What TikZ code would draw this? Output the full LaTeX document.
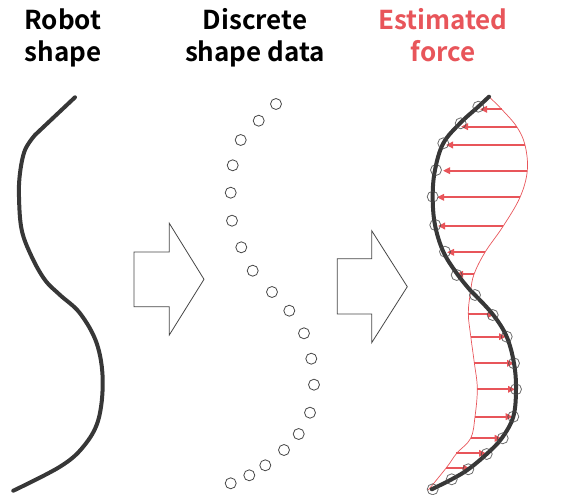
\documentclass[tikz,border=0pt]{standalone}
\usepackage{fontspec}
\setmainfont{Noto Sans CJK JP}[BoldFont={Noto Sans CJK JP Bold}]
\usetikzlibrary{arrows.meta}
\definecolor{dark}{RGB}{55,55,55}
\definecolor{ring}{RGB}{70,70,70}
\definecolor{forcered}{RGB}{232,85,90}
\tikzset{
  title/.style={anchor=base,font=\fontsize{26}{30}\selectfont\bfseries,inner sep=0pt},
  robot/.style={draw=dark,line width=4pt,line cap=round,line join=round},
  dot/.style={circle,draw=ring,line width=0.8pt,minimum size=11pt,inner sep=0pt},
  bigarrow/.style={draw=ring,line width=0.8pt,line join=miter},
  forcearrow/.style={draw=forcered,line width=1.8pt,-{Triangle[length=7pt,width=6.5pt]}},
  envelope/.style={draw=forcered,line width=0.7pt}
}
\begin{document}
\begin{tikzpicture}[x=1pt,y=-1pt]
\useasboundingbox (0,0) rectangle (582,495);
% titles
\node[title] (t1a) at (63,29.5) {Robot};
\node[title] (t1b) at (63,62) {shape};
\node[title] (t2a) at (255,29.5) {Discrete};
\node[title] (t2b) at (255,62) {shape data};
\node[title,text=forcered] (t3a) at (443,29.5) {Estimated};
\node[title,text=forcered] (t3b) at (443,62) {force};
% robot shape
\draw[robot] (75,97.3) -- (35,135) plot[smooth,tension=0.6] coordinates {(35,135) (25,150) (20,173) (19,197) (21.7,230) (31.7,256.7) (45,280) (60,295) (80,313.3) (96.7,343.3) (102.7,380) (98.3,420) (83.3,446.7) (60,466.7) (13.3,490.7)};
% block arrows
\draw[bigarrow] (134,252) -- (169.3,252) -- (169.3,223.3) -- (204,279.3) -- (169.3,335) -- (169.3,306.7) -- (134,306.7) -- cycle;
\draw[bigarrow] (337.3,258.7) -- (371.7,258.7) -- (371.7,230.7) -- (407.3,286.7) -- (371.7,342.7) -- (371.7,314) -- (337.3,314) -- cycle;
% discrete points
\foreach \i/\p in {1/{(276,104)},2/{(258.7,120.7)},3/{(240.7,140)},4/{(232.7,165.3)},5/{(230.7,192.7)},6/{(232,220.7)},7/{(241.3,247.3)},8/{(252.7,270.7)},9/{(272,292)},10/{(289.3,310.7)},11/{(304,333.3)},12/{(311.3,358.7)},13/{(314,384.7)},14/{(310,412.7)},15/{(298.7,434)},16/{(284,450)},17/{(265.3,465.3)},18/{(249.3,475.3)},19/{(230.7,483.3)}}
  \node[dot] (d\i) at \p {};
% estimated force: envelope
\draw[envelope] plot[smooth,tension=0.6] coordinates {(489,96.7) (501.7,109.3) (516.7,126.7) (525,145) (527.3,170.7) (520,197.3) (503.3,226) (485,252.3) (474,274.3) (470.5,292) (468.3,313.3) (470.7,336) (474.3,362.7) (477.3,388.3) (475,416.7) (470.7,438.3) (456.7,453.3) (446.7,467.3) (428.3,490)};
% force arrows
\foreach \a/\b/\y in {501.7/480/109.3, 516.7/461/126.7, 525/446/145, 527.3/443/170.7, 520/437/197.3, 503.3/438/226, 485/447/252.3, 474/456/274.3,
  468.3/495/314.3, 470.7/506/336.7, 474.3/514/363.3, 477.3/515/389.3, 475/512.7/416.7, 470.7/501.7/438.3, 456/486/453.3, 446/470/468.3}
  \draw[forcearrow] (\a,\y) -- (\b,\y);
% robot shape (estimated)
\draw[robot] plot[smooth,tension=0.6] coordinates {(489,96.7) (478.3,106.7) (460,123.3) (443.3,143.3) (435,170) (432.7,196.7) (435,225) (443.3,251.7) (456.7,273.3) (470,290) (475,295) (493.3,315) (506.7,336.7) (514,363.3) (516,389.3) (513.3,416.7) (501.7,438.3) (486.7,454) (468.3,469.3) (451.7,479.3) (431.7,489.3)};
% sensor circles
\foreach \i/\p in {1/{(478.3,106.7)},2/{(460.7,123.3)},3/{(443.3,143.3)},4/{(436,170)},5/{(432.7,196.7)},6/{(435.3,225)},7/{(445,251.7)},8/{(456.7,275)},9/{(475,295)},10/{(492.7,315)},11/{(506.7,336.7)},12/{(514,363.3)},13/{(516,389.3)},14/{(513.3,416.7)},15/{(502.7,438.3)},16/{(486.7,454)},17/{(468.3,469.3)},18/{(451.7,479.3)},19/{(432.7,489.3)}}
  \node[dot,draw opacity=0.8] (s\i) at \p {};
\end{tikzpicture}
\end{document}
